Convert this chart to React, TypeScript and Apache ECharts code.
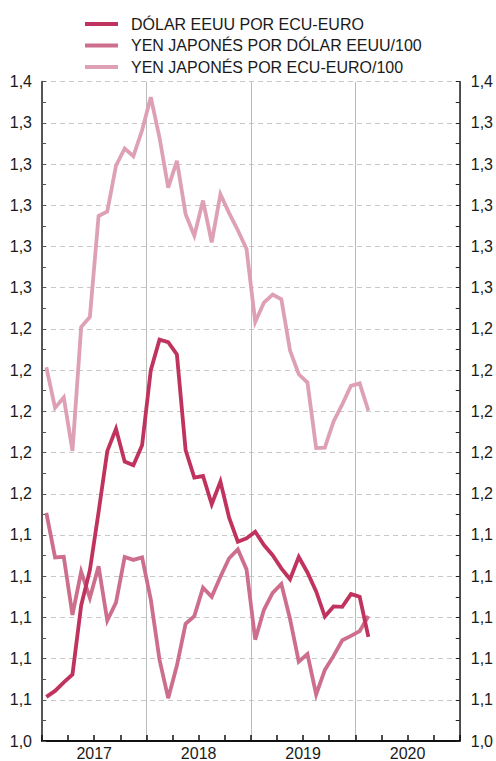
import React, { useEffect, useRef } from "react";
import * as echarts from "echarts";

const years = ["2017", "2018", "2019", "2020"];
const months = years.flatMap((y) =>
  ["01", "02", "03", "04", "05", "06", "07", "08", "09", "10", "11", "12"].map((m) => `${y}-${m}`)
);

const seriesNames = [
  "DÓLAR EEUU POR ECU-EURO",
  "YEN JAPONÉS POR DÓLAR EEUU/100",
  "YEN JAPONÉS POR ECU-EURO/100",
];

// Jan 2017 .. Feb 2020
const usdPerEur = [
  1.0614, 1.0643, 1.0685, 1.0723, 1.1058, 1.1229, 1.1511, 1.1807, 1.1915, 1.1756, 1.1738, 1.1836,
  1.22, 1.2348, 1.2336, 1.2276, 1.1812, 1.1678, 1.1686, 1.1549, 1.1659, 1.1484, 1.1367, 1.1384,
  1.1416, 1.1351, 1.1302, 1.1238, 1.1185, 1.1293, 1.1218, 1.1126, 1.1004, 1.1053, 1.1051, 1.1113,
  1.11, 1.0905,
];

const jpyPerUsd = [
  1.1507, 1.1291, 1.1294, 1.1012, 1.1222, 1.1094, 1.1248, 1.0985, 1.1072, 1.1293, 1.1279, 1.1291,
  1.1086, 1.0795, 1.0608, 1.0766, 1.0969, 1.1006, 1.1144, 1.11, 1.1197, 1.1287, 1.133, 1.1233,
  1.0892, 1.1037, 1.1119, 1.1162, 1.0992, 1.0785, 1.0822, 1.0626, 1.0745, 1.0813, 1.0889, 1.091,
  1.0933, 1.1007,
];

const jpyPerEur = [
  1.2214, 1.2017, 1.2068, 1.1808, 1.2409, 1.2458, 1.2948, 1.297, 1.3192, 1.3276, 1.3239, 1.3364,
  1.3525, 1.3329, 1.3086, 1.3216, 1.2957, 1.2853, 1.3023, 1.282, 1.3054, 1.2962, 1.2879, 1.2788,
  1.2434, 1.2528, 1.2567, 1.2544, 1.2295, 1.218, 1.214, 1.1822, 1.1824, 1.1951, 1.2034, 1.2124,
  1.2136, 1.2003,
];

const yTickLabels = [
  "1,0", "1,1", "1,1", "1,1", "1,1", "1,1", "1,2", "1,2", "1,2",
  "1,2", "1,2", "1,3", "1,3", "1,3", "1,3", "1,3", "1,4",
];

const colors = ["#c0335e", "#cd6e8c", "#dea0b4"];

export default function App() {
  const ref = useRef<HTMLDivElement>(null);

  useEffect(() => {
    if (!ref.current) return;
    const chart = echarts.init(ref.current, undefined, { renderer: "svg" });
    const yMin = 1.04;
    const yStep = 0.02;
    const fontFamily = "'Liberation Sans', Arial, sans-serif";
    const yAxisBase = (pos: "left" | "right", lineColor: string, lineWidth: number, margin: number) => ({
      type: "value",
      position: pos,
      min: yMin,
      max: 1.36,
      interval: yStep,
      axisLine: { show: true, lineStyle: { color: lineColor, width: lineWidth } },
      axisTick: { show: true, inside: true, length: 4, lineStyle: { color: lineColor, width: 1 } },
      minorTick: { show: true, splitNumber: 2, length: 4, lineStyle: { color: lineColor, width: 1 } },
      axisLabel: {
        margin,
        fontSize: 16,
        color: "#1a1a1a",
        fontFamily,
        formatter: (v: number) => yTickLabels[Math.round((v - yMin) / yStep)] ?? "",
      },
    });
    chart.setOption({
      animation: false,
      color: colors,
      textStyle: { fontFamily },
      legend: {
        orient: "vertical",
        left: 80,
        top: 11,
        icon: "rect",
        itemWidth: 33,
        itemHeight: 4,
        itemGap: 5.5,
        data: seriesNames,
        textStyle: { fontSize: 16, color: "#1a1a1a", lineHeight: 16, padding: [0, 0, 0, 8], fontFamily },
      },
      grid: { left: 42, right: 35.3, top: 81.7, bottom: 16.7, containLabel: false },
      xAxis: [
        {
          type: "category",
          data: months,
          boundaryGap: true,
          axisLine: { show: true, lineStyle: { color: "#111", width: 2 } },
          axisTick: {
            show: true,
            inside: true,
            length: 6,
            interval: (i: number) => i % 3 === 0,
            lineStyle: { color: "#111", width: 1.5 },
          },
          axisLabel: { show: false },
          splitLine: {
            show: true,
            interval: (i: number) => i % 12 === 0 && i > 0,
            lineStyle: { color: "#bbb", width: 1 },
          },
        },
        {
          type: "category",
          data: years,
          position: "bottom",
          boundaryGap: true,
          axisLine: { show: false },
          axisTick: { show: false },
          splitLine: { show: false },
          axisLabel: { margin: 4, fontSize: 16, color: "#1a1a1a", fontFamily },
        },
      ],
      yAxis: [
        {
          ...yAxisBase("left", "#555", 2, 10),
          splitLine: { show: true, lineStyle: { color: "#c8c8c8", width: 1, type: [5, 4] } },
        },
        {
          ...yAxisBase("right", "#222", 1.5, 11),
          splitLine: { show: false },
        },
      ],
      series: [
        {
          name: seriesNames[2],
          type: "line",
          data: jpyPerEur,
          symbol: "none",
          itemStyle: { color: colors[2] },
          lineStyle: { color: colors[2], width: 3.8, join: "miter" },
          z: 2,
        },
        {
          name: seriesNames[1],
          type: "line",
          data: jpyPerUsd,
          symbol: "none",
          itemStyle: { color: colors[1] },
          lineStyle: { color: colors[1], width: 3.8, join: "miter" },
          z: 3,
        },
        {
          name: seriesNames[0],
          type: "line",
          data: usdPerEur,
          symbol: "none",
          itemStyle: { color: colors[0] },
          lineStyle: { color: colors[0], width: 3.8, join: "miter" },
          z: 4,
        },
      ],
    });
    return () => chart.dispose();
  }, []);

  return (
    <div
      ref={ref}
      style={{ position: "absolute", left: 0, top: 0, width: 496, height: 761, background: "#fff" }}
    />
  );
}
